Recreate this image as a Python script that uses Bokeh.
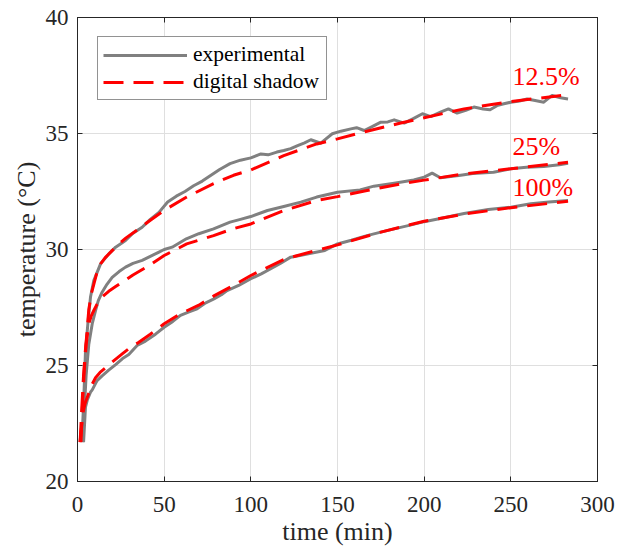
from bokeh.plotting import figure
from bokeh.models import Range1d, LinearAxis, FixedTicker, Legend, LegendItem
from bokeh.embed import file_html
from bokeh.resources import INLINE
from bokeh.core.properties import value

# ---------------- data ----------------
t_exp_125 = [2.5, 3.5, 4.6, 6.1, 7.5, 9.4, 13.3, 18.1, 22, 27.7, 32, 37.3, 42, 47, 52, 57, 62, 67, 72, 77,
             82, 88, 94, 100, 105.8, 110, 115, 119, 123, 127, 131, 134.6, 140.4, 143, 147, 152, 157.7, 161,
             165.4, 170, 175, 179, 182.7, 188.5, 194, 199, 203.8, 209.4, 214, 219, 224, 228.7, 234, 238,
             242, 246, 250, 255, 259.4, 264, 269, 273.8, 278.7, 283]
T_exp_125 = [21.7, 23.3, 25.6, 26.9, 27.95, 28.66, 29.38, 29.81, 30.1, 30.39, 30.7, 30.96, 31.3, 31.6, 32.05,
             32.3, 32.5, 32.75, 32.95, 33.2, 33.45, 33.7, 33.85, 33.95, 34.12, 34.08, 34.2, 34.27, 34.35, 34.48,
             34.6, 34.73, 34.58, 34.75, 34.99, 35.1, 35.2, 35.25, 35.13, 35.3, 35.49, 35.5, 35.59, 35.45, 35.65,
             35.85, 35.73, 35.92, 36.06, 35.88, 36.0, 36.14, 36.06, 36.02, 36.2, 36.28, 36.35, 36.4, 36.49,
             36.42, 36.35, 36.64, 36.54, 36.49]

t_mod_125 = [1.5, 2.5, 3.5, 4.6, 5.2, 6.5, 8, 9.4, 11, 13.3, 16, 20, 24, 28, 34, 40, 50, 63, 78.5, 90, 100,
             119, 138, 150, 167, 186.5, 200, 223, 250, 283]
T_mod_125 = [21.7, 23.2, 24.6, 25.7, 26.2, 27.4, 28.1, 28.5, 28.95, 29.38, 29.65, 29.95, 30.24, 30.5, 30.82,
             31.15, 31.69, 32.26, 32.84, 33.2, 33.43, 34.05, 34.55, 34.77, 35.1, 35.45, 35.68, 36.06, 36.38, 36.67]

t_exp_25 = [3, 4, 5, 6.5, 8.5, 10.4, 12, 14.2, 17, 20, 24, 27.7, 32, 37.3, 42, 47, 50, 54.6, 62.8, 70, 78.5,
            88, 94, 100, 109.6, 119, 128.8, 138, 150, 163, 171, 182.7, 194, 200, 204.6, 209.4, 220, 228, 240,
            250, 259, 269, 278, 283]
T_exp_25 = [21.7, 23.2, 24.6, 25.9, 26.8, 27.37, 27.8, 28.16, 28.5, 28.8, 29.05, 29.24, 29.4, 29.53, 29.7,
            29.89, 30.0, 30.1, 30.46, 30.68, 30.89, 31.18, 31.3, 31.42, 31.68, 31.85, 32.04, 32.26, 32.47,
            32.57, 32.73, 32.86, 33.0, 33.12, 33.29, 33.09, 33.19, 33.28, 33.33, 33.48, 33.55, 33.58, 33.65, 33.72]

t_mod_25 = [2, 3, 4, 5, 6.5, 8, 9.4, 11, 14, 18, 22, 26, 32, 40, 50, 63, 78.5, 90, 100, 119, 138, 150, 167,
            186.5, 200, 223, 250, 283]
T_mod_25 = [21.7, 23.5, 24.9, 25.9, 26.8, 27.15, 27.37, 27.6, 27.94, 28.2, 28.4, 28.6, 28.9, 29.25, 29.74,
            30.24, 30.6, 30.9, 31.1, 31.68, 32.11, 32.28, 32.54, 32.83, 32.99, 33.26, 33.48, 33.76]

t_exp_100 = [3.5, 4.6, 5.6, 7.5, 8.5, 11.3, 14.2, 18, 22, 26, 29.6, 34.4, 39.2, 45, 50, 55, 59.4, 64, 69, 74,
             78.7, 83, 86.3, 93, 100, 106, 111.5, 117, 123, 129, 134.6, 142.7, 150, 158, 167, 175, 182.7, 192,
             200, 210, 223, 237, 250, 261.5, 272, 283]
T_exp_100 = [21.7, 23.2, 23.5, 23.85, 23.95, 24.35, 24.55, 24.8, 25.04, 25.3, 25.47, 25.86, 26.05, 26.35,
             26.65, 26.9, 27.16, 27.3, 27.44, 27.7, 27.87, 28.05, 28.23, 28.45, 28.74, 28.95, 29.17, 29.4,
             29.67, 29.75, 29.84, 29.96, 30.24, 30.4, 30.6, 30.75, 30.89, 31.05, 31.2, 31.35, 31.55, 31.72,
             31.82, 31.97, 32.05, 32.11]

t_mod_100 = [1.5, 3, 4.5, 6.5, 8.5, 10.4, 13, 16.2, 20, 25.8, 30, 35.4, 42, 50, 59.4, 70, 78.7, 90, 100, 120,
             150, 175, 200, 225, 250, 283]
T_mod_100 = [21.7, 22.9, 23.4, 23.8, 24.2, 24.47, 24.7, 24.9, 25.15, 25.5, 25.75, 26.0, 26.35, 26.8, 27.23,
             27.6, 28.0, 28.45, 28.88, 29.6, 30.2, 30.75, 31.22, 31.55, 31.8, 32.08]

series_labels = ["12.5%", "25%", "100%"]
label_t = [251, 251, 251]
label_T = [37.46, 34.45, 32.66]

x_ticks = [0, 50, 100, 150, 200, 250, 300]
y_ticks = [20, 25, 30, 35, 40]

# ---------------- figure ----------------
SERIF = "Liberation Serif"
AX = "#262626"

p = figure(frame_width=520, frame_height=464,
           x_range=Range1d(0, 300), y_range=Range1d(20, 40),
           output_backend="svg", toolbar_location=None,
           min_border_left=77, min_border_right=31, min_border_top=17, min_border_bottom=68,
           x_axis_label="time (min)", y_axis_label="temperature (°C)")
p.background_fill_color = "white"
p.border_fill_color = "white"
p.outline_line_color = AX
p.outline_line_width = 1

for ax in (p.xaxis[0], p.yaxis[0]):
    ax.axis_line_color = AX
    ax.major_tick_line_color = AX
    ax.major_tick_in = 5
    ax.major_tick_out = 0
    ax.minor_tick_line_color = None
    ax.major_label_text_font = SERIF
    ax.major_label_text_font_size = "23px"
    ax.major_label_text_color = AX
    ax.axis_label_text_font = SERIF
    ax.axis_label_text_font_size = "26px"
    ax.axis_label_text_font_style = "normal"
    ax.axis_label_text_color = AX

p.xaxis[0].ticker = FixedTicker(ticks=x_ticks)
p.yaxis[0].ticker = FixedTicker(ticks=y_ticks)
p.xaxis[0].major_label_standoff = 15
p.yaxis[0].major_label_standoff = 9
p.xaxis[0].axis_label_standoff = 2
p.yaxis[0].axis_label_standoff = 2

top = LinearAxis(ticker=FixedTicker(ticks=x_ticks))
right = LinearAxis(ticker=FixedTicker(ticks=y_ticks))
for ax in (top, right):
    ax.axis_line_color = AX
    ax.major_tick_line_color = AX
    ax.major_tick_in = 5
    ax.major_tick_out = 0
    ax.minor_tick_line_color = None
    ax.major_label_text_font_size = "0px"
    ax.major_label_standoff = 0
    ax.major_label_text_color = None
p.add_layout(top, "above")
p.add_layout(right, "right")

p.xgrid.ticker = FixedTicker(ticks=x_ticks)
p.ygrid.ticker = FixedTicker(ticks=y_ticks)
p.xgrid.grid_line_color = "#dfdfdf"
p.ygrid.grid_line_color = "#dfdfdf"
p.xgrid.grid_line_width = 1
p.ygrid.grid_line_width = 1

GRAY = "#808080"
RED = "#ff0000"

exp_series = [(t_exp_125, T_exp_125), (t_exp_25, T_exp_25), (t_exp_100, T_exp_100)]
mod_series = [(t_mod_125, T_mod_125), (t_mod_25, T_mod_25), (t_mod_100, T_mod_100)]

exp_r = []
for tx, ty in exp_series:
    exp_r.append(p.line(tx, ty, line_color=GRAY, line_width=3, line_join="round"))
mod_r = []
for tx, ty in mod_series:
    mod_r.append(p.line(tx, ty, line_color=RED, line_width=3, line_dash="20 10"))

p.text(x=label_t, y=label_T, text=series_labels, text_color=RED,
       text_font=value(SERIF), text_font_size="26px",
       text_align="left", text_baseline="middle")

legend = Legend(items=[LegendItem(label="experimental", renderers=[exp_r[0]]),
                       LegendItem(label="digital shadow", renderers=[mod_r[0]])],
                location=(20, 381))
legend.label_text_font = SERIF
legend.label_text_font_size = "21.5px"
legend.label_text_color = "#000000"
legend.glyph_width = 84
legend.glyph_height = 20
legend.label_height = 20
legend.label_width = 128
legend.label_standoff = 6
legend.spacing = 2
legend.padding = 5
legend.margin = 0
legend.border_line_color = AX
legend.border_line_width = 1
legend.background_fill_alpha = 1.0
p.add_layout(legend, "center")

open("out.html", "w").write(file_html(p, INLINE))
